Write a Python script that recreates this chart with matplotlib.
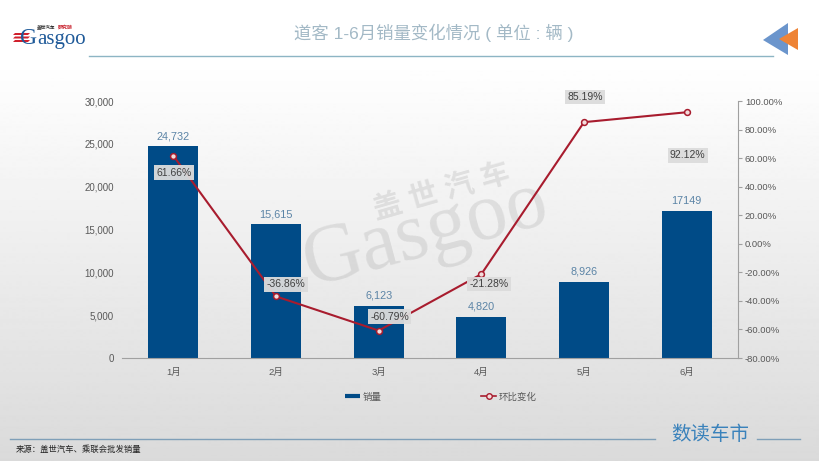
import numpy as np
import matplotlib
matplotlib.use('Agg')
import matplotlib.pyplot as plt
from matplotlib.patches import Polygon
from matplotlib.lines import Line2D
from matplotlib.ticker import FuncFormatter

plt.rcParams['font.family'] = ['Liberation Sans', 'Noto Sans CJK SC', 'DejaVu Sans']

# Data
months = ['1月', '2月', '3月', '4月', '5月', '6月']
sales = [24732, 15615, 6123, 4820, 8926, 17149]
sales_labels = ['24,732', '15,615', '6,123', '4,820', '8,926', '17149']
mom_change = [61.66, -36.86, -60.79, -21.28, 85.19, 92.12]
mom_labels = ['61.66%', '-36.86%', '-60.79%', '-21.28%', '85.19%', '92.12%']
mom_offsets = [(1, -17), (10, 12), (11, 14), (8, -10), (1, 25), (1, -43)]

W, H = 820, 461
BAR_COLOR = '#004b87'
LINE_COLOR = '#a81c2e'
GREY = '#595959'

fig = plt.figure(figsize=(W / 100, H / 100), dpi=100)

# background layer in pixel coordinates
bg = fig.add_axes([0, 0, 1, 1], zorder=0)
bg.set_xlim(0, W)
bg.set_ylim(H, 0)
bg.axis('off')
shade = np.concatenate([np.full(60, 1.0), np.linspace(1.0, 0.855, H - 60)]).reshape(-1, 1)
bg.imshow(shade, cmap='gray', vmin=0, vmax=1, extent=[0, W, H, 0], aspect='auto')

# watermark
bg.text(310, 286, 'Gasgoo', fontsize=59, color='black', alpha=0.085, rotation=15, rotation_mode='anchor',
        ha='left', va='baseline', family='Liberation Serif')
bg.text(442, 192, '盖 世 汽 车', fontsize=21, color='black', alpha=0.085, rotation=16,
        rotation_mode='anchor', ha='center', va='center', weight='bold')

# header
bg.text(434, 33, '道客 1-6月销量变化情况 ( 单位 : 辆 )', fontsize=12.5, color='#a3b9c6', ha='center', va='center')
bg.plot([89, 773], [56, 56], color='#8db5c4', lw=1)
bg.add_patch(Polygon([[763, 40], [788, 23], [788, 55]], color='#6b95cc', lw=0))
bg.add_patch(Polygon([[779, 39], [798, 28], [798, 50]], color='#ee8335', lw=0))

# logo
bg.text(20, 44, 'G', fontsize=17, color='#1f5a99', ha='left', va='baseline', family='Liberation Serif')
bg.text(37, 44, 'asgoo', fontsize=15, color='#1f5a99', ha='left', va='baseline', family='Liberation Serif')
bg.text(46, 27, '盖世汽车', fontsize=3.3, color='#333333', ha='center', va='center', weight='bold')
bg.text(65, 27, '研究院', fontsize=3.6, color='#c8202c', ha='center', va='center', weight='bold')
for y in (33, 36.5, 40):
    bg.add_patch(Polygon([[13, y + 2], [15, y], [30, y], [28, y + 2]], color='#d0202c', lw=0))

# footer
bg.plot([10, 655], [439, 439], color='#7f9fb8', lw=1)
bg.plot([757, 800], [439, 439], color='#7f9fb8', lw=1)
bg.text(710, 435, '数读车市', fontsize=14, color='#3a82bb', ha='center', va='center')
bg.text(16, 450, '来源：盖世汽车、乘联会批发销量', fontsize=6, color='#222222', ha='left', va='center')

# main chart
ax = fig.add_axes([122 / W, 1 - 358 / H, 616 / W, 257 / H], zorder=1)
ax.patch.set_alpha(0)
x = np.arange(len(months))
ax.bar(x, sales, width=0.49, color=BAR_COLOR, zorder=2)
ax.set_xlim(-0.5, 5.5)
ax.set_ylim(0, 30000)
ax.set_xticks(x)
ax.set_xticklabels(months)
ax.set_yticks(range(0, 30001, 5000))
ax.yaxis.set_major_formatter(FuncFormatter(lambda v, _: f'{int(v):,}'))
ax.tick_params(axis='x', length=0, labelsize=6.8, labelcolor=GREY, pad=7)
ax.tick_params(axis='y', length=0, labelsize=7, labelcolor=GREY, pad=5.8)
for side in ('top', 'right', 'left'):
    ax.spines[side].set_visible(False)
ax.spines['bottom'].set_color('#a0a0a0')
ax.spines['bottom'].set_linewidth(0.8)

for xi, val, label in zip(x, sales, sales_labels):
    ax.annotate(label, (xi, val), xytext=(0, 5), textcoords='offset pixels', ha='center', va='bottom',
                fontsize=7.8, color='#5b84a6', zorder=3)

ax2 = ax.twinx()
ax2.patch.set_alpha(0)
ax2.set_ylim(-80, 100)
ax2.set_yticks(range(-80, 101, 20))
ax2.yaxis.set_major_formatter(FuncFormatter(lambda v, _: f'{v:.2f}%'))
ax2.tick_params(axis='y', length=3, width=0.8, color='#a0a0a0', labelsize=6.8, labelcolor=GREY, pad=2)
for side in ('top', 'left', 'bottom'):
    ax2.spines[side].set_visible(False)
ax2.spines['right'].set_color('#a0a0a0')
ax2.spines['right'].set_linewidth(0.8)

ax2.plot(x, mom_change, color=LINE_COLOR, lw=1.5, marker='o', ms=4.2, mfc='#f3dcdc', mec=LINE_COLOR,
         mew=1.1, zorder=4)
for xi, val, label, off in zip(x, mom_change, mom_labels, mom_offsets):
    ax2.annotate(label, (xi, val), xytext=off, textcoords='offset pixels', ha='center', va='center',
                 fontsize=7.5, color='#404040', zorder=5,
                 bbox=dict(boxstyle='square,pad=0.22', fc='#dcdcdc', ec='none', alpha=0.95))

# legend
handles = [Line2D([], [], color=BAR_COLOR, lw=3, solid_capstyle='butt'),
           Line2D([], [], color=LINE_COLOR, lw=1.2, marker='o', ms=4, mfc='#f3dcdc', mec=LINE_COLOR)]
fig.legend(handles, ['销量', '环比变化'], loc='center', bbox_to_anchor=(441 / W, 1 - 397 / H), ncol=2,
           frameon=False, fontsize=6.8, labelcolor=GREY, handlelength=1.6, handletextpad=0.3, columnspacing=10.5)

fig.savefig('out.png', dpi=100)
